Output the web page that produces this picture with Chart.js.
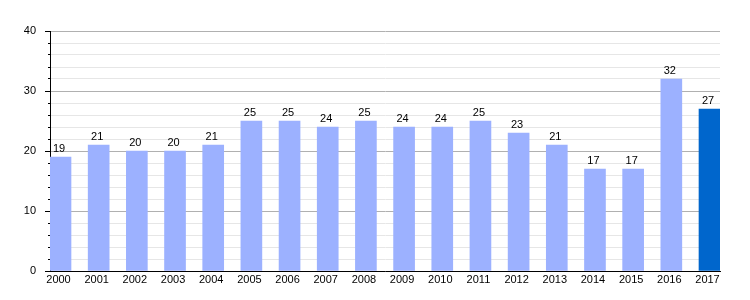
<!DOCTYPE html>
<html>
<head>
<meta charset="utf-8">
<script src="https://cdn.jsdelivr.net/npm/chart.js@4"></script>
<style>
  html, body { margin: 0; padding: 0; background: #fff; }
  #wrap { width: 750px; height: 300px; position: relative; }
</style>
</head>
<body>
<div id="wrap"><canvas id="barChart"></canvas></div>
<script>
// data
const years = [2000, 2001, 2002, 2003, 2004, 2005, 2006, 2007, 2008, 2009, 2010, 2011, 2012, 2013, 2014, 2015, 2016, 2017];
const values = [19, 21, 20, 20, 21, 25, 25, 24, 25, 24, 24, 25, 23, 21, 17, 17, 32, 27];
const yTicks = [0, 10, 20, 30, 40];

const lightBlue = '#9cb1ff';
const darkBlue = '#0066cc';

// value labels above each bar
const valueLabels = {
    id: 'valueLabels',
    afterDatasetsDraw(chart) {
        const ctx = chart.ctx;
        const meta = chart.getDatasetMeta(0);
        ctx.save();
        ctx.font = '11px "Liberation Sans", Arial, sans-serif';
        ctx.fillStyle = '#000';
        ctx.textAlign = 'center';
        ctx.textBaseline = 'alphabetic';
        meta.data.forEach((bar, i) => {
            ctx.fillText(String(values[i]), bar.x - 1.5, bar.y - 5);
        });
        ctx.restore();
    }
};

const ctxEl = document.getElementById('barChart');
new Chart(ctxEl, {
    type: 'bar',
    data: {
        datasets: [
            {
                data: years.map((y, i) => ({ x: y, y: values[i] })),
                backgroundColor: years.map((y, i) => (i === years.length - 1 ? darkBlue : lightBlue)),
                barThickness: 21,
                borderWidth: 0,
            },
        ],
    },
    options: {
        responsive: true,
        maintainAspectRatio: false,
        animation: false,
        layout: { padding: { top: 31, right: 30, left: 0, bottom: 0 } },
        plugins: {
            legend: { display: false },
            tooltip: { enabled: false },
        },
        scales: {
            x: {
                type: 'linear',
                offset: false,
                min: years[0] - 0.275,
                max: years[years.length - 1] + 0.275,
                afterBuildTicks: (axis) => {
                    axis.ticks = years.map((v) => ({ value: v }));
                },
                afterFit: (axis) => {
                    axis.height = 29;
                },
                grid: { display: false, drawTicks: false, offset: false },
                border: { display: true, color: '#000', width: 1 },
                ticks: {
                    autoSkip: false,
                    maxRotation: 0,
                    padding: 2,
                    labelOffset: -2,
                    color: '#000',
                    font: { family: '"Liberation Sans", Arial, sans-serif', size: 11 },
                    callback: (v) => String(v),
                },
            },
            y: {
                min: 0,
                max: 40,
                afterBuildTicks: (axis) => {
                    const t = [];
                    for (let v = 0; v <= 40; v += 2) t.push({ value: v });
                    axis.ticks = t;
                },
                afterFit: (axis) => {
                    axis.width = 50;
                },
                grid: {
                    color: (c) => (yTicks.includes(c.tick.value) ? '#b0b0b0' : '#e6e6e6'),
                    tickColor: '#000',
                    tickLength: 5,
                    tickBorderDash: (c) => (yTicks.includes(c.tick.value) ? [] : [0, 3, 2]),
                },
                border: { display: true, color: '#000', width: 1 },
                ticks: {
                    autoSkip: false,
                    padding: 9,
                    color: '#000',
                    font: { family: '"Liberation Sans", Arial, sans-serif', size: 11 },
                    callback: (v) => (yTicks.includes(v) ? String(v) : ''),
                },
            },
        },
    },
    plugins: [valueLabels],
});
</script>
</body>
</html>
